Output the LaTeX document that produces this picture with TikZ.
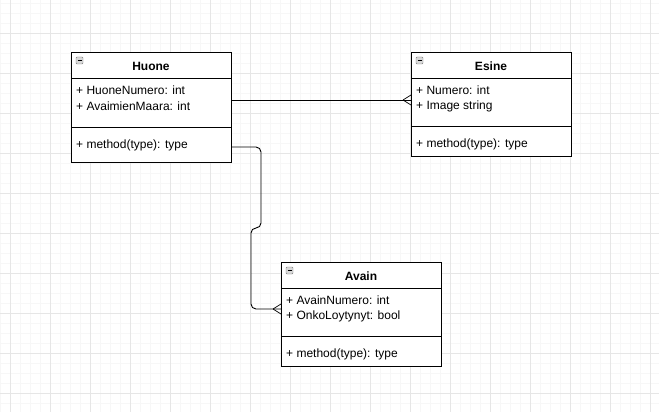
\documentclass[tikz,border=0pt]{standalone}
\usepackage{fontspec}
\setmainfont{Liberation Sans}
\usetikzlibrary{calc}

\definecolor{gridminor}{HTML}{F7F7F7}
\definecolor{gridmajor}{HTML}{E6E6E6}
\definecolor{iconfill}{HTML}{D8D8D8}
\definecolor{iconline}{HTML}{7A7A7A}

\tikzset{
  classbox/.style={draw=black, line width=0.9pt, fill=white, anchor=north west, minimum width=160, inner sep=0pt},
  title/.style={font=\fontsize{12}{14}\selectfont\bfseries, anchor=center},
  member/.style={font=\fontsize{12}{14}\selectfont, anchor=west, inner sep=0pt},
  divider/.style={draw=black, line width=0.9pt},
  conn/.style={draw=black, line width=0.9pt},
  foot/.style={draw=black, line width=0.7pt},
}

\begin{document}
\begin{tikzpicture}[x=1pt,y=-1pt]

\useasboundingbox (0,0) rectangle (659,412);
\fill[white] (0,0) rectangle (659,412);

% grid
\foreach \gx in {0,10,...,650} { \draw[gridminor, line width=0.5pt] (\gx,0) -- (\gx,412); }
\foreach \gy in {3,13,...,403} { \draw[gridminor, line width=0.5pt] (0,\gy) -- (659,\gy); }
\foreach \gx in {10,50,...,650} { \draw[gridmajor, line width=0.5pt] (\gx,0) -- (\gx,412); }
\foreach \gy in {33,73,...,393} { \draw[gridmajor, line width=0.5pt] (0,\gy) -- (659,\gy); }

% Huone
\node[classbox, minimum height=110] (huone) at (71,52) {};
\draw[divider] ($(huone.north west)+(0,26)$) -- ($(huone.north east)+(0,26)$);
\draw[divider] ($(huone.north west)+(0,75)$) -- ($(huone.north east)+(0,75)$);
\node[title] (huone-t) at (151,66) {Huone};
\node[member] (huone-a1) at (76,90) {+ HuoneNumero: int};
\node[member] (huone-a2) at (76,106) {+ AvaimienMaara: int};
\node[member] (huone-m) at (76,145) {+ method(type): type};
\draw[iconline, fill=iconfill, rounded corners=1] (76,57) rectangle (83,64);
\draw[black, line width=0.6pt] (77.5,60.5) -- (81.5,60.5);

% Esine
\node[classbox, minimum height=104] (esine) at (411,52) {};
\draw[divider] ($(esine.north west)+(0,26)$) -- ($(esine.north east)+(0,26)$);
\draw[divider] ($(esine.north west)+(0,74)$) -- ($(esine.north east)+(0,74)$);
\node[title] (esine-t) at (491,66) {Esine};
\node[member] (esine-a1) at (416,90) {+ Numero: int};
\node[member] (esine-a2) at (416,106) {+ Image string};
\node[member] (esine-m) at (416,144) {+ method(type): type};
\draw[iconline, fill=iconfill, rounded corners=1] (416,57) rectangle (423,64);
\draw[black, line width=0.6pt] (417.5,60.5) -- (421.5,60.5);

% Avain
\node[classbox, minimum height=104] (avain) at (281,262) {};
\draw[divider] ($(avain.north west)+(0,26)$) -- ($(avain.north east)+(0,26)$);
\draw[divider] ($(avain.north west)+(0,74)$) -- ($(avain.north east)+(0,74)$);
\node[title] (avain-t) at (361,276) {Avain};
\node[member] (avain-a1) at (286,300) {+ AvainNumero: int};
\node[member] (avain-a2) at (286,316) {+ OnkoLoytynyt: bool};
\node[member] (avain-m) at (286,354) {+ method(type): type};
\draw[iconline, fill=iconfill, rounded corners=1] (286,267) rectangle (293,274);
\draw[black, line width=0.6pt] (287.5,270.5) -- (291.5,270.5);

% Huone -- Esine
\coordinate (he-s) at ($(huone.north east)+(0,48)$);
\coordinate (he-e) at ($(esine.north west)+(0,48)$);
\draw[conn] (he-s) -- (he-e);
\draw[foot] ($(he-e)+(-8,0)$) -- ($(he-e)+(0,-5)$);
\draw[foot] ($(he-e)+(-8,0)$) -- ($(he-e)+(0,5)$);

% Huone -- Avain
\coordinate (ha-s) at ($(huone.north east)+(0,95)$);
\coordinate (ha-e) at ($(avain.north west)+(0,47)$);
\draw[conn, rounded corners=5] (ha-s) -- (261,147) -- (261,228) -- (251,228) -- (251,309) -- (ha-e);
\draw[foot] ($(ha-e)+(-8,0)$) -- ($(ha-e)+(0,-5)$);
\draw[foot] ($(ha-e)+(-8,0)$) -- ($(ha-e)+(0,5)$);

\end{tikzpicture}
\end{document}
